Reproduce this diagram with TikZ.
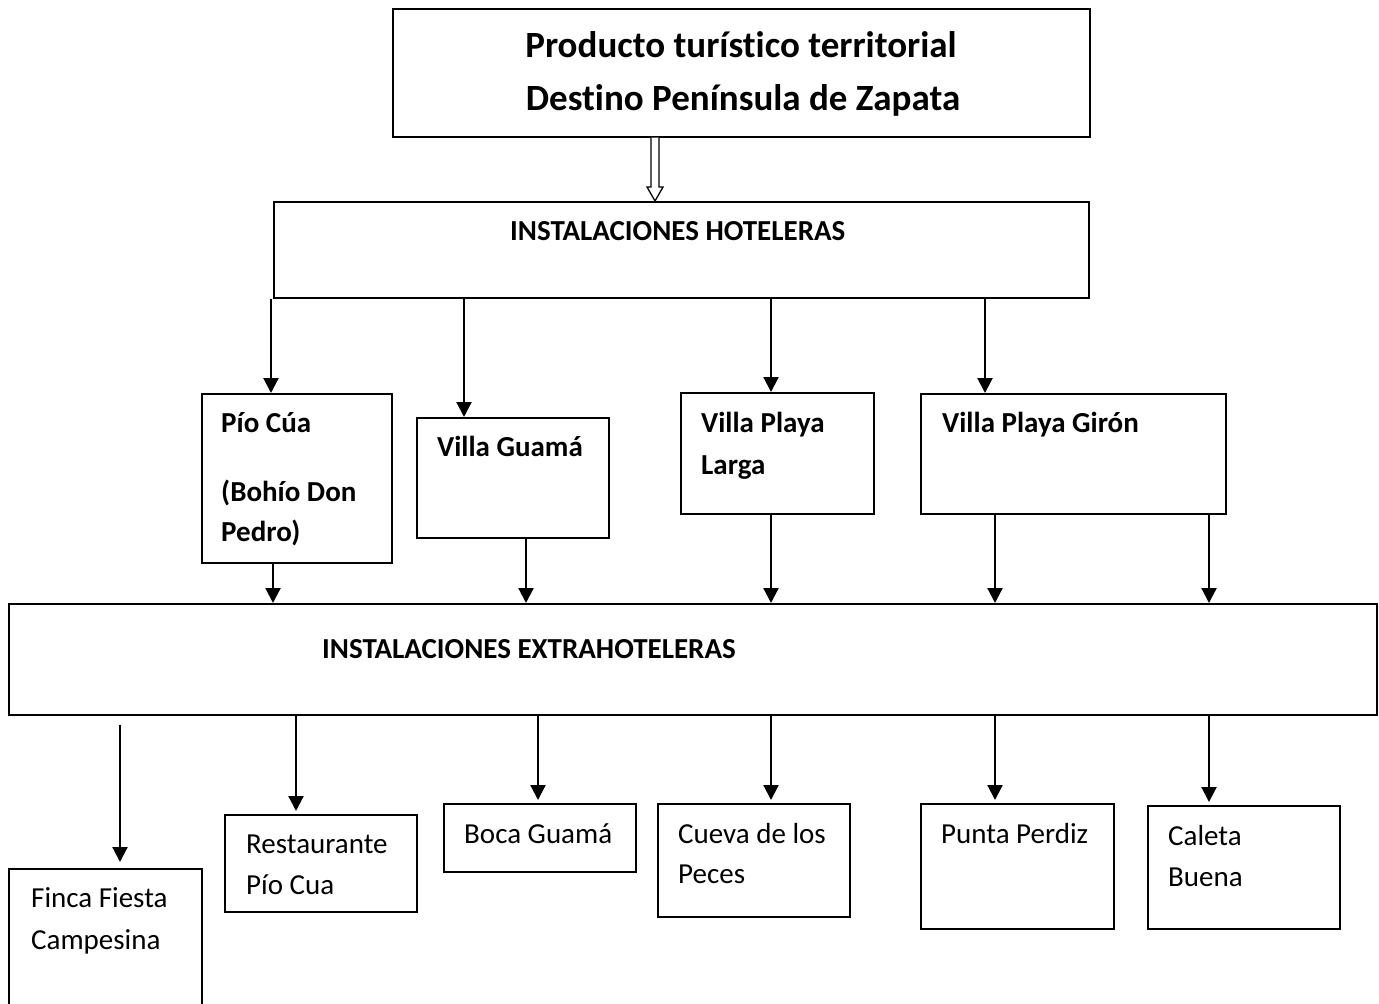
\documentclass[tikz,border=0pt]{standalone}
\usepackage{fontspec}
\setmainfont{Carlito}[Ligatures=NoCommon]
\usetikzlibrary{arrows.meta,calc}
\begin{document}
\begin{tikzpicture}[x=1pt,y=-1pt,
  box/.style={draw,line width=1.6pt,inner sep=0pt,anchor=north west},
  bt/.style={anchor=base west,inner sep=0pt,font=\fontsize{29}{35}\selectfont\bfseries},
  nt/.style={anchor=base west,inner sep=0pt,font=\fontsize{29}{35}\selectfont},
  tt/.style={anchor=base,inner sep=0pt,font=\fontsize{37}{44}\selectfont\bfseries},
  arr/.style={line width=2.2pt,-{Triangle[length=15pt,width=15pt]}}]
\useasboundingbox (0,0) rectangle (1379,1004);
% boxes
\node[box,minimum width=697pt,minimum height=128pt] (top) at (392,8) {};
\node[box,minimum width=815pt,minimum height=96pt] (hot) at (273,201) {};
\node[box,minimum width=190pt,minimum height=169pt] (pio) at (201,393) {};
\node[box,minimum width=192pt,minimum height=120pt] (gua) at (416,417) {};
\node[box,minimum width=193pt,minimum height=121pt] (lar) at (680,392) {};
\node[box,minimum width=305pt,minimum height=120pt] (gir) at (920,393) {};
\node[box,minimum width=1368pt,minimum height=111pt] (ext) at (8,603) {};
\node[box,minimum width=193pt,minimum height=150pt] (fin) at (8,868) {};
\node[box,minimum width=192pt,minimum height=97pt] (res) at (224,814) {};
\node[box,minimum width=192pt,minimum height=68pt] (boc) at (443,803) {};
\node[box,minimum width=192pt,minimum height=113pt] (cue) at (657,803) {};
\node[box,minimum width=193pt,minimum height=125pt] (pun) at (920,803) {};
\node[box,minimum width=192pt,minimum height=123pt] (cal) at (1147,805) {};
% texts
\node[tt] (top1) at (741,57) {Producto turíst\kern0pt ico territorial};
\node[tt] (top2) at (743,110) {Dest\kern0pt ino Península de Zapata};
\node[bt] (hott) at (510,240) {INSTALACIONES HOTELERAS};
\node[bt] (pio1) at (221,432) {Pío Cúa};
\node[bt] (pio2) at (221,501) {(Bohío Don};
\node[bt] (pio3) at (221,541) {Pedro)};
\node[bt] (guat) at (437,456) {Villa Guamá};
\node[bt] (lar1) at (701,432) {Villa Playa};
\node[bt] (lar2) at (701,474) {Larga};
\node[bt] (girt) at (942,432) {Villa Playa Girón};
\node[bt] (extt) at (322,658) {INSTALACIONES EXTRAHOTELERAS};
\node[nt] (fin1) at (31,907) {Finca Fiesta};
\node[nt] (fin2) at (31,949) {Campesina};
\node[nt] (res1) at (246,853) {Restaurante};
\node[nt] (res2) at (246,894) {Pío Cua};
\node[nt] (boct) at (464,843) {Boca Guamá};
\node[nt] (cue1) at (678,843) {Cueva de los};
\node[nt] (cue2) at (678,883) {Peces};
\node[nt] (punt) at (941,843) {Punta Perdiz};
\node[nt] (cal1) at (1168,845) {Caleta};
\node[nt] (cal2) at (1168,886) {Buena};
% x positions
\coordinate (xa) at (655,0);
\coordinate (x1) at (271,0);
\coordinate (x2) at (464,0);
\coordinate (x3) at (771,0);
\coordinate (x4) at (985,0);
\coordinate (x5) at (273,0);
\coordinate (x6) at (526,0);
\coordinate (x7) at (995,0);
\coordinate (x8) at (1209,0);
\coordinate (x9) at (120,0);
\coordinate (x10) at (296,0);
\coordinate (x11) at (538,0);
% hollow double arrow
\coordinate (dA) at (top.south -| xa);
\coordinate (dB) at (hot.north -| xa);
\draw[line width=1.3pt,fill=white] ($(dA)+(-4,0)$) -- ($(dB)+(-4,-14)$) -- ($(dB)+(-8,-14)$) -- (dB) -- ($(dB)+(8,-14)$) -- ($(dB)+(4,-14)$) -- ($(dA)+(4,0)$);
% arrows
\draw[arr] (hot.south -| x1) -- (pio.north -| x1);
\draw[arr] (hot.south -| x2) -- (gua.north -| x2);
\draw[arr] (hot.south -| x3) -- (lar.north -| x3);
\draw[arr] (hot.south -| x4) -- (gir.north -| x4);
\draw[arr] (pio.south -| x5) -- (ext.north -| x5);
\draw[arr] (gua.south -| x6) -- (ext.north -| x6);
\draw[arr] (lar.south -| x3) -- (ext.north -| x3);
\draw[arr] (gir.south -| x7) -- (ext.north -| x7);
\draw[arr] (gir.south -| x8) -- (ext.north -| x8);
\draw[arr,shorten <=9pt,shorten >=6pt] (ext.south -| x9) -- (fin.north -| x9);
\draw[arr,shorten >=3pt] (ext.south -| x10) -- (res.north -| x10);
\draw[arr,shorten >=3pt] (ext.south -| x11) -- (boc.north -| x11);
\draw[arr,shorten >=3pt] (ext.south -| x3) -- (cue.north -| x3);
\draw[arr,shorten >=3pt] (ext.south -| x7) -- (pun.north -| x7);
\draw[arr,shorten >=3pt] (ext.south -| x8) -- (cal.north -| x8);
\end{tikzpicture}
\end{document}
